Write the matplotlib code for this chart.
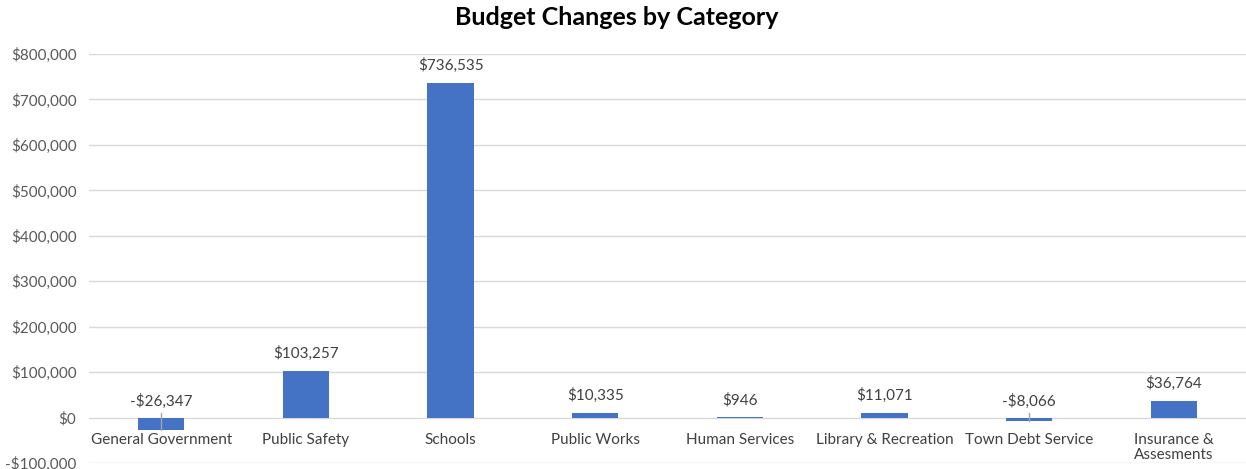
import matplotlib
matplotlib.use("Agg")
import matplotlib.pyplot as plt
import numpy as np
from matplotlib.ticker import FuncFormatter

plt.rcParams['font.family'] = ['Lato', 'DejaVu Sans']

categories = ["General Government", "Public Safety", "Schools", "Public Works",
              "Human Services", "Library & Recreation", "Town Debt Service",
              "Insurance &\nAssesments"]
changes = [-26347, 103257, 736535, 10335, 946, 11071, -8066, 36764]

BAR_COLOR = "#4472C4"
GRID_COLOR = "#D9D9D9"


def money(v, pos=None):
    if v < 0:
        return "-${:,.0f}".format(-v)
    return "${:,.0f}".format(v)


fig = plt.figure(figsize=(12.46, 4.69), dpi=100)
ax = fig.add_axes([0.0714, 0.0128, 0.9286, 0.872])

x = np.arange(len(categories))
ax.bar(x, changes, width=0.32, color=BAR_COLOR, zorder=3)

ax.set_xlim(-0.5, len(categories) - 0.5)
ax.set_ylim(-100000, 800000)
ax.set_yticks(np.arange(-100000, 800001, 100000))
ax.yaxis.set_major_formatter(FuncFormatter(money))
ax.tick_params(axis='y', length=0, labelsize=11, labelcolor="#595959", pad=9)
ax.set_xticks([])
ax.grid(axis='y', color=GRID_COLOR, linewidth=1, zorder=0)
for s in ax.spines.values():
    s.set_visible(False)

# category names sit just under the zero line
for xi, name in zip(x, categories):
    ax.annotate(name, (xi, 0), xytext=(0, -11), textcoords='offset points',
                ha='center', va='top', fontsize=11, color="#404040",
                linespacing=1.1)

# value labels; negatives get a thin leader through the bar
for xi, v in zip(x, changes):
    if v < 0:
        ax.plot([xi, xi], [v, 9000], color="#A6A6A6", linewidth=1, zorder=4)
        ax.annotate(money(v), (xi, 0), xytext=(0, 6), textcoords='offset points',
                    ha='center', va='bottom', fontsize=11, color="#404040")
    else:
        ax.annotate(money(v), (xi, v), xytext=(0, 7), textcoords='offset points',
                    ha='center', va='bottom', fontsize=11, color="#404040")

fig.text(0.495, 0.962, "Budget Changes by Category", ha='center', va='center',
         fontsize=18, fontweight='bold', color="#000000")

fig.savefig("out.png", dpi=100)
